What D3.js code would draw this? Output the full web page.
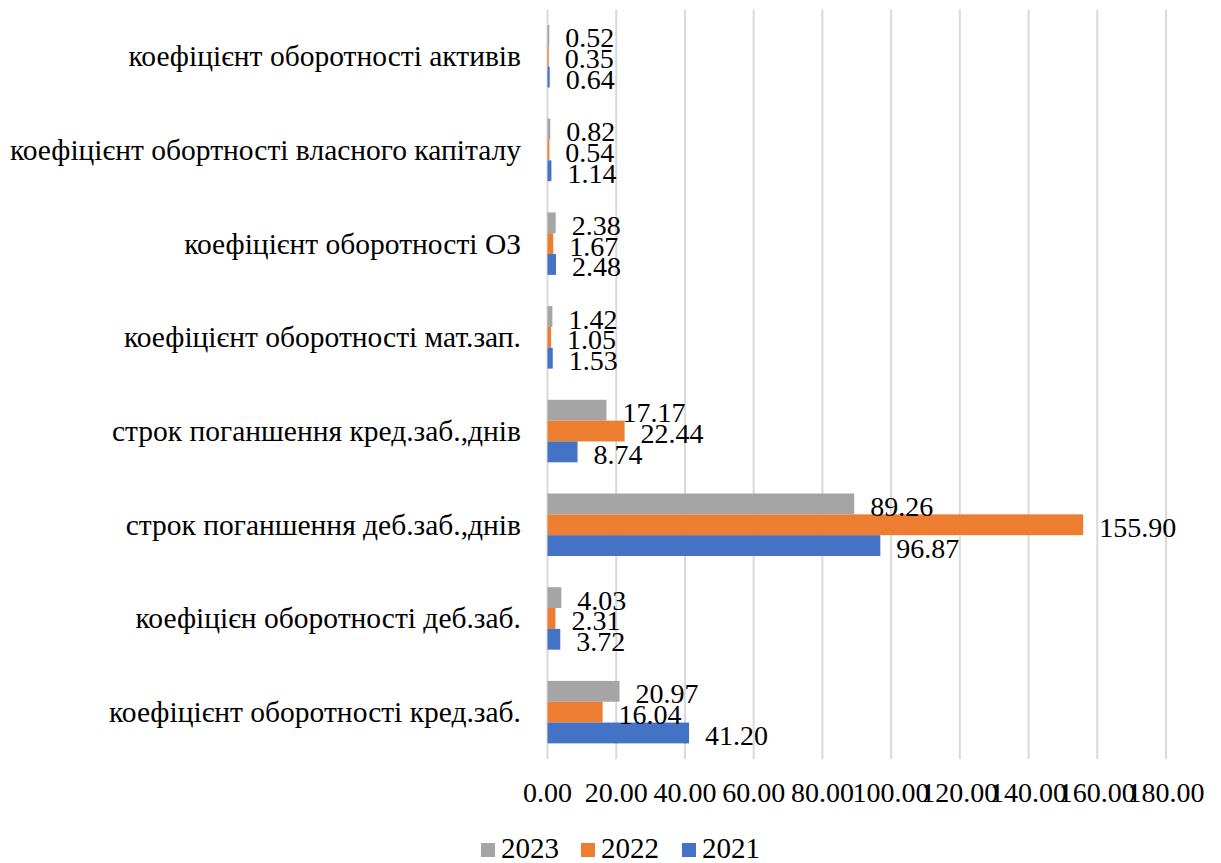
<!DOCTYPE html>
<html><head><meta charset="utf-8">
<script src="https://cdn.jsdelivr.net/npm/d3@7"></script>
<style>body{margin:0;background:#fff}svg{display:block}</style>
</head><body>
<svg id="c" width="1221" height="863"></svg>
<script>
const categories = [
  "коефіцієнт оборотності активів",
  "коефіцієнт обортності власного капіталу",
  "коефіцієнт оборотності ОЗ",
  "коефіцієнт оборотності мат.зап.",
  "строк поганшення кред.заб.,днів",
  "строк поганшення деб.заб.,днів",
  "коефіцієн оборотності деб.заб.",
  "коефіцієнт оборотності кред.заб."
];
const seriesNames = ["2023", "2022", "2021"];
const values2023 = [0.52, 0.82, 2.38, 1.42, 17.17, 89.26, 4.03, 20.97];
const values2022 = [0.35, 0.54, 1.67, 1.05, 22.44, 155.90, 2.31, 16.04];
const values2021 = [0.64, 1.14, 2.48, 1.53, 8.74, 96.87, 3.72, 41.20];
const tickValues = [0, 20, 40, 60, 80, 100, 120, 140, 160, 180];
const colors = ["#A5A5A5", "#ED7D31", "#4472C4"];

const FONT = "'Times New Roman', 'Liberation Serif', Tinos, Times, 'DejaVu Serif', serif";
const seriesValues = [values2023, values2022, values2021];
const svg = d3.select("#c");
const x = d3.scaleLinear().domain([0, 180]).range([547.5, 1166]);
const y = d3.scaleBand().domain(categories).range([9.4, 759]).paddingInner(0).paddingOuter(0);
const groupH = y.bandwidth() / 1.5;
const yInner = d3.scaleBand().domain(seriesNames).range([0, groupH]);

// gridlines
svg.append("g").selectAll("line").data(tickValues).join("line")
  .attr("x1", d => x(d)).attr("x2", d => x(d))
  .attr("y1", 9.4).attr("y2", 759)
  .attr("stroke", "#D9D9D9").attr("stroke-width", 2);

// tick labels
svg.append("g").selectAll("text").data(tickValues).join("text")
  .attr("x", d => x(d)).attr("y", 802)
  .attr("text-anchor", "middle").style("font-size", "28px").style("font-family", FONT)
  .text(d => d.toFixed(2));

// category labels
svg.append("g").selectAll("text").data(categories).join("text")
  .attr("x", 521).attr("y", d => y(d) + y.bandwidth() / 2 + 10)
  .attr("text-anchor", "end").style("font-size", "29.5px").style("font-family", FONT)
  .text(d => d);

// bars
const data = [];
categories.forEach((c, i) => seriesNames.forEach((s, j) => data.push({c, s, j, v: seriesValues[j][i]})));
const off = (y.bandwidth() - groupH) / 2;
svg.append("g").selectAll("rect").data(data).join("rect")
  .attr("x", x(0)).attr("y", d => y(d.c) + off + yInner(d.s))
  .attr("width", d => x(d.v) - x(0)).attr("height", yInner.bandwidth())
  .attr("fill", d => colors[d.j]);

// data labels
svg.append("g").selectAll("text").data(data).join("text")
  .attr("x", d => x(d.v) + 16)
  .attr("y", d => y(d.c) + off + yInner(d.s) + yInner.bandwidth() / 2 + 12)
  .style("font-size", "28px").style("font-family", FONT)
  .text(d => d.v.toFixed(2));

// legend
const legX = [481, 581, 682];
const leg = svg.append("g").selectAll("g").data(seriesNames).join("g")
  .attr("transform", (d, i) => `translate(${legX[i]},0)`);
leg.append("rect").attr("x", 0).attr("y", 843).attr("width", 14).attr("height", 14)
  .attr("fill", (d, i) => colors[i]);
leg.append("text").attr("x", 20).attr("y", 858).style("font-size", "29px").style("font-family", FONT).text(d => d);
</script>
</body></html>
